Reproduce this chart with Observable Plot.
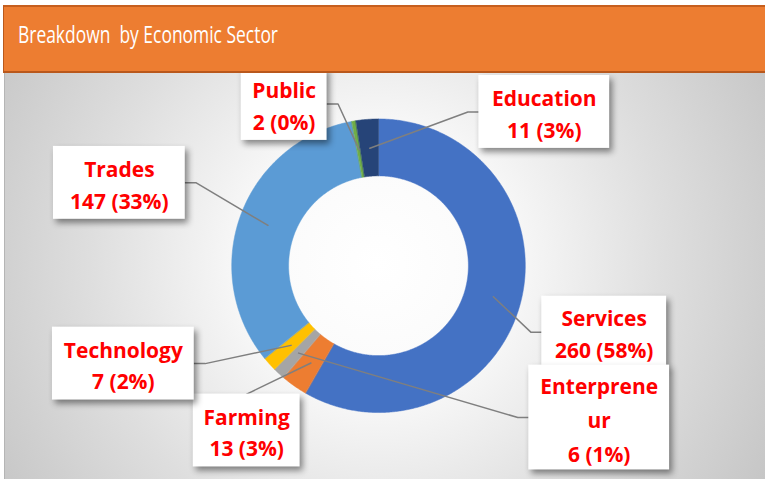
<!DOCTYPE html>
<html>
<head>
<meta charset="utf-8">
<script src="https://cdn.jsdelivr.net/npm/d3@7"></script>
<script src="https://cdn.jsdelivr.net/npm/@observablehq/plot@0.6"></script>
<style>
  html, body { margin: 0; padding: 0; background: #ffffff; width: 765px; height: 479px; overflow: hidden; }
  #title {
    position: absolute; left: 3px; top: 5px; width: 761px; height: 64px;
    background: #ED7D31; border-top: 2px solid #C65F1E; border-bottom: 2px solid #B9581C; border-left: 1px solid #B9581C;
    z-index: 2;
  }
  #panel {
    position: absolute; left: 4px; top: 73px; width: 761px; height: 406px;
    border-left: 1px solid #b5b5b5; box-sizing: border-box;
    background: radial-gradient(circle farthest-corner at 49% 47%, #ffffff 0%, #fafafa 28%, #dedede 65%, #c6c6c6 100%);
    z-index: 1;
  }
  #panel svg { position: absolute; left: -1px; top: 0; }
</style>
</head>
<body>
<div id="panel"></div>
<div id="title">
  <svg width="761" height="64" style="display:block">
    <text x="14" y="36" textLength="260" lengthAdjust="spacingAndGlyphs" font-family="'Open Sans', Lato, sans-serif" font-size="23" fill="#ffffff" style="white-space:pre">Breakdown  by Economic Sector</text>
  </svg>
</div>
<script>
// ---- data ----
const sectors = ["Services", "Farming", "Enterpreneur", "Technology", "Trades", "Public", "Education"];
const counts = [260, 13, 6, 7, 147, 2, 11];
const pctLabels = ["58%", "3%", "1%", "2%", "33%", "0%", "3%"];
const labelNames = ["Services", "Farming", "Enterprene\nur", "Technology", "Trades", "Public", "Education"];
const colors = ["#4472C4", "#ED7D31", "#A5A5A5", "#FFC000", "#5B9BD5", "#70AD47", "#264478"];

// ---- layout (px, relative to donut centre) ----
const W = 761, H = 406;
const CX = 375, CY = 193;           // donut centre inside the svg
const OUTER = 147, INNER = 90;
const labelLayout = [
  {dx: 225.5, dy: 66,     w: 125, h: 72,  attach: "left"},
  {dx: -132.5, dy: 164.5, w: 107, h: 73,  attach: "top"},
  {dx: 220.5, dy: 151.5,  w: 141, h: 105, attach: "left"},
  {dx: -256, dy: 97.5,    w: 142, h: 73,  attach: "right"},
  {dx: -260, dy: -83.5,   w: 132, h: 73,  attach: "right"},
  {dx: -95, dy: -162.5,   w: 86,  h: 73,  attach: "right"},
  {dx: 165.5, dy: -154.5, w: 131, h: 73,  attach: "left"}
];

// ---- geometry ----
const pie = d3.pie().sort(null).value(d => d)(counts);
const polar = (a, r) => ({x: Math.sin(a) * r, y: -Math.cos(a) * r});

const arcPts = [];
pie.forEach((p, i) => {
  const n = Math.max(2, Math.ceil((p.endAngle - p.startAngle) / (Math.PI / 360)));
  for (let t = 0; t <= n; t++) {
    const a = p.startAngle + (p.endAngle - p.startAngle) * t / n;
    const o = polar(a, OUTER), q = polar(a, INNER);
    arcPts.push({sector: sectors[i], x1: q.x, y1: q.y, x2: o.x, y2: o.y});
  }
});

const boxes = sectors.map((s, i) => {
  const L = labelLayout[i];
  return {
    sector: s, i,
    x1: L.dx - L.w / 2, x2: L.dx + L.w / 2, y1: L.dy - L.h / 2, y2: L.dy + L.h / 2,
    cx: L.dx, cy: L.dy,
    text: `${labelNames[i]}\n${counts[i]} (${pctLabels[i]})`
  };
});

const leaderPts = [];
pie.forEach((p, i) => {
  const L = labelLayout[i], b = boxes[i];
  const mid = (p.startAngle + p.endAngle) / 2;
  const a = polar(mid, (OUTER + INNER) / 2);
  leaderPts.push({sector: sectors[i], x: a.x, y: a.y});
  if (L.attach === "top") {
    leaderPts.push({sector: sectors[i], x: b.cx, y: b.y1});
  } else {
    const ex = L.attach === "right" ? b.x2 : b.x1;
    const off = L.attach === "right" ? 11 : -11;
    leaderPts.push({sector: sectors[i], x: ex + off, y: b.cy});
    leaderPts.push({sector: sectors[i], x: ex, y: b.cy});
  }
});

const textProps = {
  x: "cx", y: "cy", text: "text", dy: 0,
  fill: "#FF0000", fontSize: 21, fontWeight: "bold",
  fontFamily: "'Open Sans', Lato, sans-serif", textAnchor: "middle"
};

const chart = Plot.plot({
  width: W, height: H, margin: 0,
  x: {domain: [-CX, W - CX], range: [0, W], axis: null},
  y: {domain: [-CY, H - CY], range: [0, H], axis: null},
  color: {domain: sectors, range: colors},
  style: {background: "transparent", overflow: "visible"},
  marks: [
    Plot.area(arcPts, {x1: "x1", y1: "y1", x2: "x2", y2: "y2", z: "sector", fill: "sector", stroke: "sector", strokeWidth: 0.5, curve: "linear"}),
    Plot.line(leaderPts, {x: "x", y: "y", z: "sector", stroke: "#7F7F7F", strokeWidth: 1.5}),
    Plot.rect(boxes.filter(b => b.i !== 2), {x1: "x1", x2: "x2", y1: "y1", y2: "y2", fill: "white"}),
    Plot.text(boxes.filter(b => b.i !== 2), {...textProps, lineHeight: 1.5}),
    Plot.rect(boxes.filter(b => b.i === 2), {x1: "x1", x2: "x2", y1: "y1", y2: "y2", fill: "white"}),
    Plot.text(boxes.filter(b => b.i === 2), {...textProps, lineHeight: 1.62})
  ]
});

chart.querySelectorAll('g[aria-label="rect"] rect').forEach(r => {
  r.style.filter = "drop-shadow(3px 4px 3px rgba(0,0,0,0.45))";
});
document.getElementById("panel").appendChild(chart);
</script>
</body>
</html>
